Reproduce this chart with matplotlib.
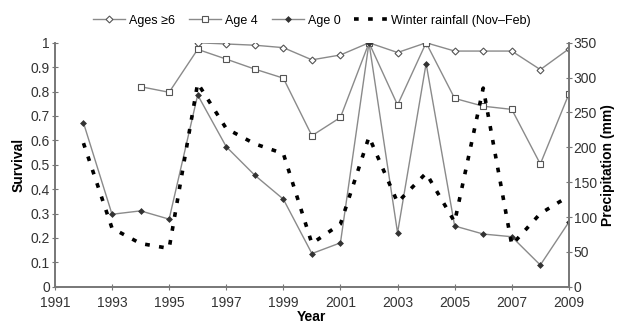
import matplotlib
matplotlib.use("Agg")
import matplotlib.pyplot as plt

plt.rcParams["font.family"] = ["Liberation Sans", "DejaVu Sans"]
plt.rcParams["font.size"] = 10

# survival per age class
years_old = [1996, 1997, 1998, 1999, 2000, 2001, 2002, 2003, 2004, 2005, 2006, 2007, 2008, 2009]
surv_old = [1.0, 0.995, 0.99, 0.98, 0.93, 0.95, 1.0, 0.96, 1.0, 0.966, 0.966, 0.966, 0.89, 0.975]

years_age4 = [1994, 1995, 1996, 1997, 1998, 1999, 2000, 2001, 2002, 2003, 2004, 2005, 2006, 2007, 2008, 2009]
surv_age4 = [0.82, 0.797, 0.973, 0.933, 0.892, 0.855, 0.619, 0.694, 1.0, 0.745, 1.0, 0.772, 0.74, 0.727, 0.503, 0.79]

years_age0 = [1992, 1993, 1994, 1995, 1996, 1997, 1998, 1999, 2000, 2001, 2002, 2003, 2004, 2005, 2006, 2007, 2008, 2009]
surv_age0 = [0.672, 0.297, 0.311, 0.277, 0.786, 0.574, 0.457, 0.359, 0.136, 0.18, 1.0, 0.221, 0.915, 0.249, 0.216, 0.205, 0.089, 0.265]

# winter rainfall Nov-Feb (mm)
years_rain = [1992, 1993, 1994, 1995, 1996, 1997, 1998, 1999, 2000, 2001, 2002, 2003, 2004, 2005, 2006, 2007, 2008, 2009]
rain = [206, 84, 62, 55, 292, 227, 205, 191, 62, 90, 215, 121, 163, 93, 285, 60, 105, 130]

xticks = list(range(1991, 2010, 2))

fig = plt.figure(figsize=(6.17, 3.24), dpi=100)
ax = fig.add_axes([0.089, 0.115, 0.833, 0.753])
ax2 = ax.twinx()

line_col = "#8a8a8a"
mk_col = "#555555"

l1, = ax.plot(years_old, surv_old, color=line_col, lw=1.0, marker="D", ms=3.5,
              mfc="white", mec=mk_col, mew=0.8, label="Ages \u22656")
l2, = ax.plot(years_age4, surv_age4, color=line_col, lw=1.0, marker="s", ms=4.5,
              mfc="white", mec=mk_col, mew=0.8, label="Age 4")
l3, = ax.plot(years_age0, surv_age0, color=line_col, lw=1.0, marker="D", ms=3,
              mfc="#333333", mec="#333333", mew=0.5, label="Age 0")
l4, = ax2.plot(years_rain, rain, color="black", lw=2.6, linestyle=(0, (1.3, 2.6)),
               label="Winter rainfall (Nov\u2013Feb)")

ax.set_xlim(1991, 2009)
ax.set_ylim(0, 1)
ax2.set_ylim(0, 350)
ax.set_xticks(xticks)
ax.set_yticks([i / 10 for i in range(11)])
ax.set_yticklabels(["0"] + ["%.1f" % (i / 10) for i in range(1, 10)] + ["1"])
ax2.set_yticks(range(0, 351, 50))

for a in (ax, ax2):
    a.spines["top"].set_visible(False)
    for s in a.spines.values():
        s.set_color("#777777")
        s.set_linewidth(1.2)
    a.tick_params(direction="inout", length=5, color="#777777", labelcolor="#333333", pad=1)
ax.tick_params(axis="x", pad=4)

ax.set_xlabel("Year", fontweight="bold", labelpad=0)
ax.set_ylabel("Survival", fontweight="bold", labelpad=4)
ax2.set_ylabel("Precipitation (mm)", fontweight="bold", labelpad=3)

fig.legend(handles=[l1, l2, l3, l4], loc="center", bbox_to_anchor=(0.505, 0.936),
           ncol=4, frameon=False, handlelength=2.6, columnspacing=1.1,
           handletextpad=0.3, borderaxespad=0, fontsize=9)

fig.savefig("out.png", dpi=100)
